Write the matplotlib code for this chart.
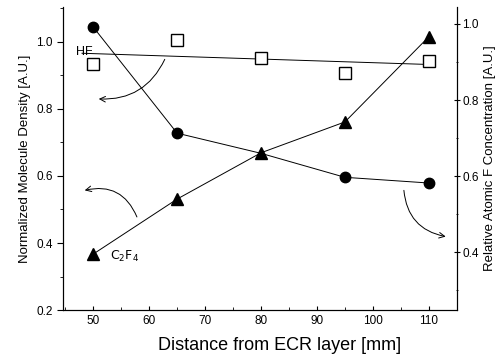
import numpy as np
import matplotlib.pyplot as plt
from matplotlib.ticker import MultipleLocator

plt.rcParams['font.family'] = ['Liberation Sans', 'DejaVu Sans']

# data
distance = [50, 65, 80, 95, 110]
hf = [0.934, 1.006, 0.952, 0.907, 0.943]          # left axis, open squares
c2f4 = [0.367, 0.531, 0.669, 0.761, 1.015]        # left axis, triangles
atomic_f = [0.992, 0.713, 0.660, 0.597, 0.582]    # right axis, circles

fig = plt.figure(figsize=(5.02, 3.61), dpi=100)
ax = fig.add_axes([0.1255, 0.141, 0.7845, 0.840])
ax2 = ax.twinx()
# left-axis marks (triangles) drawn above the circles
ax.set_zorder(ax2.get_zorder() + 1)
ax.patch.set_visible(False)

# HF: linear fit through the squares
coef = np.polyfit(distance, hf, 1)
xfit = np.array([48.0, 110.0])
ax.plot(xfit, np.polyval(coef, xfit), color='black', lw=0.7)
ax.plot(distance, hf, 's', ms=8.5, mfc='white', mec='black', mew=1.0)

ax.plot(distance, c2f4, '-^', color='black', lw=0.7, ms=8)
# the circle at 80 mm sits under the triangle in the original
ax2.plot(distance, atomic_f, '-o', color='black', lw=0.7, ms=7.5,
         markevery=[0, 1, 3, 4])

ax.set_xlim(44.6, 115)
ax.set_ylim(0.2, 1.104)
ax2.set_ylim(0.248, 1.045)

ax.set_xticks([50, 60, 70, 80, 90, 100, 110])
ax.xaxis.set_minor_locator(MultipleLocator(5))
ax.set_yticks([0.2, 0.4, 0.6, 0.8, 1.0])
ax.yaxis.set_minor_locator(MultipleLocator(0.1))
ax2.set_yticks([0.4, 0.6, 0.8, 1.0])
ax2.yaxis.set_minor_locator(MultipleLocator(0.1))

for a in (ax, ax2):
    a.spines['top'].set_visible(False)
    a.tick_params(labelsize=8.5, width=0.8)
ax.tick_params(axis='x', direction='in', length=3)
ax.tick_params(axis='x', which='minor', direction='in', length=2)
ax.tick_params(axis='y', which='major', direction='out', length=4)
ax.tick_params(axis='y', which='minor', direction='out', length=2)
ax2.tick_params(axis='y', which='major', direction='inout', length=4, pad=2)
ax2.tick_params(axis='y', which='minor', direction='inout', length=2)

ax.set_xlabel('Distance from ECR layer [mm]', fontsize=13, x=0.55, labelpad=7)
ax.set_ylabel('Normalized Molecule Density [A.U.]', fontsize=9.5)
ax2.set_ylabel('Relative Atomic F Concentration [A.U.]', fontsize=9.5)

ax.text(47.0, 0.97, 'HF', fontsize=9, va='center')
ax.text(53.0, 0.36, r'$\mathrm{C_2F_4}$', fontsize=9, va='center')

# curved arrows pointing to the relevant axis
ax.annotate('', xy=(50.5, 0.83), xytext=(63.0, 0.955),
            arrowprops=dict(arrowstyle='->', lw=0.7, connectionstyle='arc3,rad=-0.35'))
ax.annotate('', xy=(48.0, 0.555), xytext=(58.0, 0.47),
            arrowprops=dict(arrowstyle='->', lw=0.7, connectionstyle='arc3,rad=0.45'))
ax2.annotate('', xy=(113.5, 0.44), xytext=(105.5, 0.57),
             arrowprops=dict(arrowstyle='->', lw=0.7, connectionstyle='arc3,rad=0.4'))

fig.savefig('out.png', dpi=100)
